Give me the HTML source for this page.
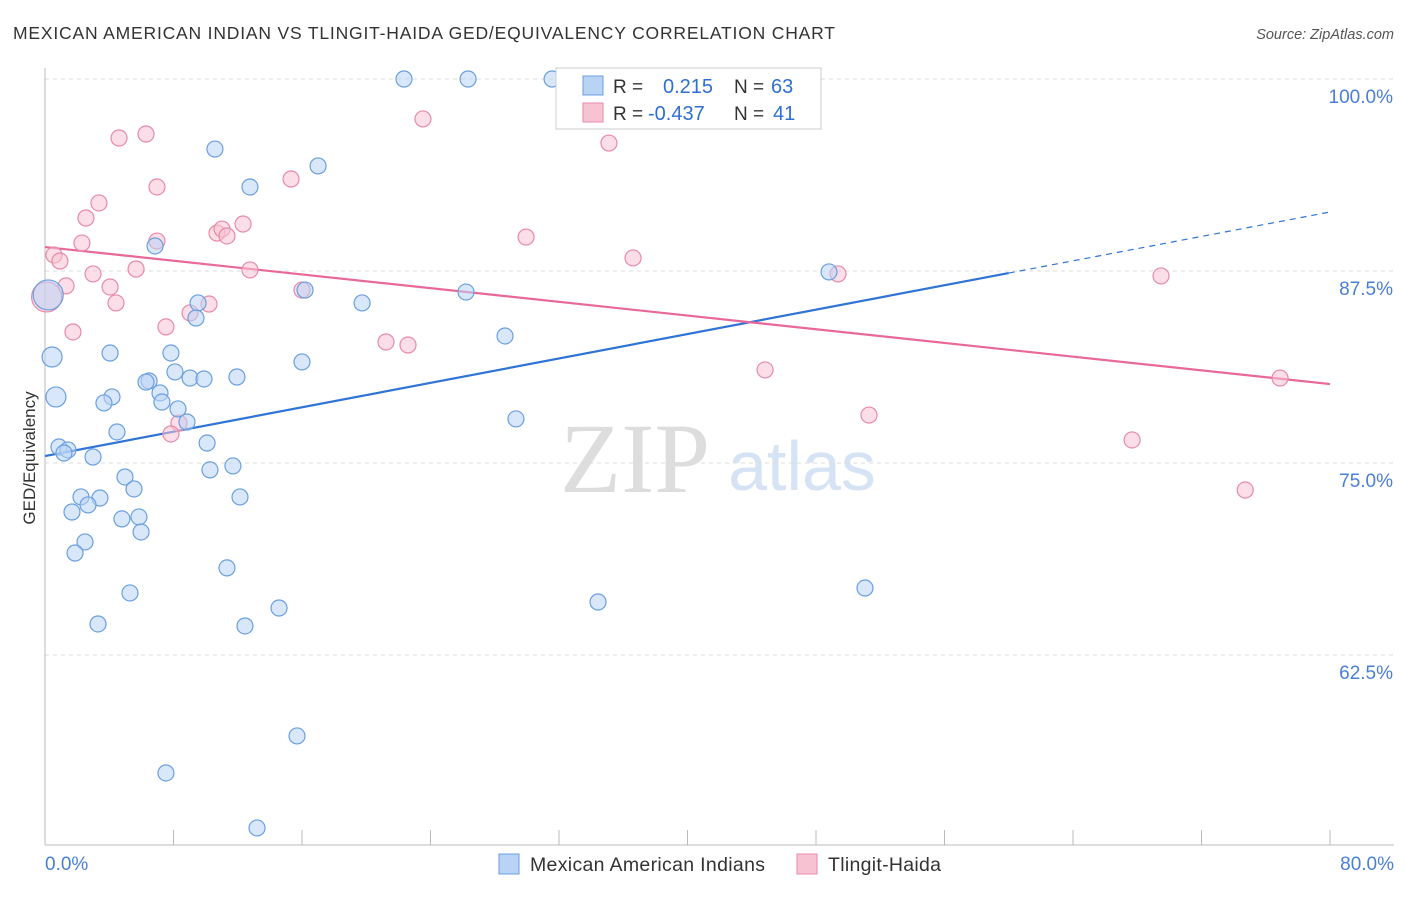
<!DOCTYPE html>
<html><head><meta charset="utf-8"><style>
body{margin:0;background:#fff;font-family:"Liberation Sans",sans-serif}
</style></head><body>
<svg id="chart" width="1406" height="892" font-family="Liberation Sans, sans-serif">
<text x="13" y="39" font-size="17.5" fill="#333" textLength="822">MEXICAN AMERICAN INDIAN VS TLINGIT-HAIDA GED/EQUIVALENCY CORRELATION CHART</text>
<text x="1394" y="39" font-size="14.5" fill="#555" font-style="italic" text-anchor="end">Source: ZipAtlas.com</text>
<text x="635" y="492" font-size="100" fill="#ddd" style="font-family:'Liberation Serif',serif" text-anchor="middle">ZIP</text>
<text x="802" y="490" font-size="70" fill="#d5e3f5" text-anchor="middle">atlas</text>
<text x="35" y="458" font-size="17" fill="#333" text-anchor="middle" transform="rotate(-90 35 458)">GED/Equivalency</text>
<g id="grid"></g><g id="axes"></g><g id="lines"></g><g id="pts"></g>
<g>
<rect x="556" y="68" width="265" height="61" fill="#fff" stroke="#ccc"/>
<rect x="583" y="76" width="20" height="19" fill="#b9d3f5" stroke="#6a9fe0"/>
<rect x="583" y="103" width="20" height="19" fill="#f7c3d3" stroke="#e88aa8"/>
<text x="613" y="93" font-size="19" fill="#333">R =</text><text x="663" y="93" font-size="20" fill="#2f6fd3">0.215</text>
<text x="734" y="93" font-size="19" fill="#333">N =</text><text x="771" y="93" font-size="20" fill="#2f6fd3">63</text>
<text x="613" y="120" font-size="19" fill="#333">R =</text><text x="648" y="120" font-size="20" fill="#2f6fd3">-0.437</text>
<text x="734" y="120" font-size="19" fill="#333">N =</text><text x="773" y="120" font-size="20" fill="#2f6fd3">41</text>
</g>
<g>
<rect x="499" y="854" width="20" height="20" fill="#b9d3f5" stroke="#6a9fe0"/>
<text x="530" y="871" font-size="19.5" fill="#333" textLength="235">Mexican American Indians</text>
<rect x="797" y="854" width="20" height="20" fill="#f7c3d3" stroke="#e88aa8"/>
<text x="828" y="871" font-size="19.5" fill="#333" textLength="113">Tlingit-Haida</text>
</g>
</svg>
<script>
const blueX=[22.35,26.34,31.57,10.58,17.0,12.76,6.85,48.81,16.19,26.21,19.74,9.53,9.40,28.64,0.44,4.05,7.84,16.0,8.09,11.95,6.48,6.29,9.03,9.90,0.68,4.17,3.67,7.16,7.28,8.28,8.84,29.32,4.48,10.09,0.87,1.43,1.18,2.99,11.70,10.27,4.98,5.54,2.24,3.42,2.68,12.14,1.68,4.79,5.85,5.98,2.49,1.87,11.33,5.29,34.43,51.05,14.57,3.30,12.45,15.69,7.53,13.20,0.2];
const blueY=[100,100,100,95.44,94.34,92.97,89.13,87.44,86.26,86.13,85.42,85.42,84.44,83.27,81.90,82.16,82.16,81.58,80.93,80.60,80.34,80.27,80.53,80.47,79.30,79.30,78.91,79.56,78.97,78.52,77.67,77.87,77.02,76.30,76.04,75.85,75.65,75.39,74.81,74.55,74.09,73.31,72.79,72.72,72.27,72.79,71.81,71.36,71.49,70.51,69.86,69.14,68.17,66.54,65.95,66.86,65.56,64.52,64.39,57.23,54.82,51.24,85.94];
const pinkX=[0.1,6.29,4.61,23.53,35.11,15.32,6.97,3.36,2.55,12.33,10.71,11.02,11.33,6.97,2.30,29.95,0.56,0.93,36.61,5.67,12.76,2.99,1.31,4.05,16.0,49.37,69.48,4.42,10.21,9.03,7.53,1.74,21.23,22.60,44.83,76.89,51.30,8.34,7.84,67.68,74.72];
const pinkY=[85.81,96.42,96.16,97.40,95.83,93.49,92.97,91.93,90.95,90.56,89.97,90.23,89.78,89.45,89.32,89.71,88.54,88.15,88.35,87.63,87.57,87.31,86.53,86.46,86.26,87.31,87.18,85.42,85.35,84.77,83.86,83.53,82.88,82.68,81.06,80.53,78.12,77.60,76.89,76.50,73.24];
const yTicks=[100,87.5,75,62.5];
const yTickLabels=["100.0%","87.5%","75.0%","62.5%"];
const xTicks=[0,8,16,24,32,40,48,56,64,72,80];
const blueTrend=[75.45,91.34];
const pinkTrend=[89.06,80.14];
const NS="http://www.w3.org/2000/svg";
const X=p=>45+p/80*1285, Y=v=>79+(100-v)/12.5*192;
function mk(t,a,par){const e=document.createElementNS(NS,t);for(const k in a)e.setAttribute(k,a[k]);document.getElementById(par).appendChild(e);return e;}
yTicks.forEach((v,i)=>{
 const l=mk('line',{x1:45,x2:1394,y1:Y(v),y2:Y(v),stroke:'#ddd','stroke-dasharray':'4,4'},'grid');
 
 
 const t=mk('text',{x:1393,y:Y(v)+24,'font-size':19,fill:'#4a7fd6','text-anchor':'end'},'grid');
 t.textContent=yTickLabels[i];
 
 
});
const ax=mk('line',{x1:45,x2:1394,y1:845,y2:845,stroke:'#bbb'},'axes');


const ay=mk('line',{x1:45,x2:45,y1:68,y2:845,stroke:'#bbb'},'axes');


xTicks.forEach(p=>{const t=mk('line',{x1:X(p),x2:X(p),y1:830,y2:845,stroke:'#bbb'},'axes');
 
 });
const x0=mk('text',{x:45,y:870,'font-size':19,fill:'#4a7fd6'},'axes');x0.textContent='0.0%';


const x1=mk('text',{x:1394,y:870,'font-size':19,fill:'#4a7fd6','text-anchor':'end'},'axes');x1.textContent='80.0%';


function drawPts(xs,ys,fill,stroke,name,bigIdx,midIdx){xs.forEach((x,i)=>{
 const r=bigIdx.includes(i)?15:(midIdx.includes(i)?10:8);
 const c=mk('circle',{cx:X(x),cy:Y(ys[i]),r:r,fill:fill,'fill-opacity':0.55,stroke:stroke,'stroke-width':1.2},'pts');
 
 });}
drawPts(pinkX,pinkY,'#f7c3d3','#e88aa8','pink-point',[0],[]);
drawPts(blueX,blueY,'#b9d3f5','#6a9fe0','blue-point',[blueX.length-1],[14,24]);
const bAt=p=>blueTrend[0]+(blueTrend[1]-blueTrend[0])*p/80;
const bl=mk('line',{x1:X(0),y1:Y(bAt(0)),x2:X(60),y2:Y(bAt(60)),stroke:'#2f74d6','stroke-width':2.2},'lines');


const bd=mk('line',{x1:X(60),y1:Y(bAt(60)),x2:X(80),y2:Y(bAt(80)),stroke:'#2f74d6','stroke-width':1.2,'stroke-dasharray':'6,5'},'lines');


const pl=mk('line',{x1:X(0),y1:Y(pinkTrend[0]),x2:X(80),y2:Y(pinkTrend[1]),stroke:'#e8689a','stroke-width':2.2},'lines');


</script>
</body></html>
